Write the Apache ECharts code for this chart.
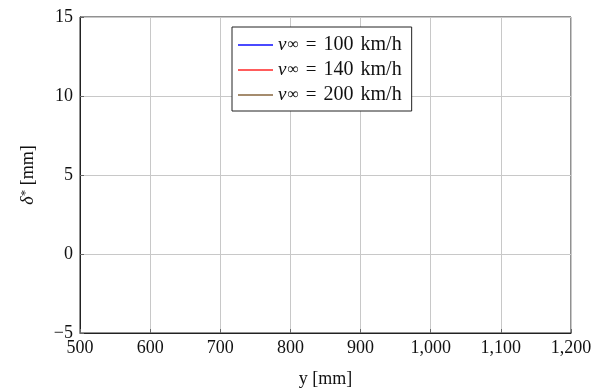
<!DOCTYPE html>
<html>
<head>
<meta charset="utf-8">
<script src="https://cdn.jsdelivr.net/npm/echarts@6/dist/echarts.min.js"></script>
<style>
  html, body { margin: 0; padding: 0; background: #fff; }
  #chart { width: 609px; height: 388px; }
</style>
</head>
<body>
<div id="chart"></div>
<script>
// legend entries (free-stream velocity, km/h)
const speeds = [100, 140, 200]
const colors = ['#4a4aff', '#ff5c5c', '#a58c6e']
// the curves do not show up in the picture, so the series are empty
const seriesY = [[], [], []]
const xTicks = [500, 1200, 100]
const yTicks = [-5, 15, 5]

const font = 'Liberation Serif'
const chart = echarts.init(document.getElementById('chart'))

const txt = { fontFamily: font, fontSize: 19, color: '#111' }

const option = {
  animation: false,
  grid: {
    left: 80, top: 17, right: 38, bottom: 55,
    outerBoundsMode: 'none',
    show: true, borderColor: '#222', borderWidth: 1
  },
  legend: {
    left: 232, top: 27,
    orient: 'vertical',
    itemGap: 5,
    itemWidth: 35, itemHeight: 2,
    padding: [8, 10, 6, 6],
    borderColor: '#222', borderWidth: 1,
    backgroundColor: '#fff',
    icon: 'rect',
    formatter: name => '{v|v}{s|∞}{e|=}{n|' + name + '}{u|km/h}',
    textStyle: {
      ...txt, lineHeight: 20,
      rich: {
        v: { ...txt, fontStyle: 'italic', lineHeight: 20 },
        s: { ...txt, fontSize: 16, lineHeight: 20, padding: [0, 0, 0, 1] },
        e: { ...txt, lineHeight: 20, padding: [0, 7, 0, 7] },
        n: { ...txt, fontSize: 20, lineHeight: 20 },
        u: { ...txt, fontSize: 20, lineHeight: 20, padding: [0, 0, 0, 7] }
      }
    }
  },
  xAxis: {
    type: 'value',
    min: xTicks[0], max: xTicks[1], interval: xTicks[2],
    name: 'y [mm]', nameLocation: 'middle', nameGap: 37,
    nameTextStyle: { ...txt, fontSize: 18 },
    axisLine: { onZero: false, lineStyle: { color: '#222' } },
    axisTick: { inside: true, length: 4, lineStyle: { color: '#666' } },
    axisLabel: {
      ...txt, fontSize: 18, margin: 6,
      formatter: v => v.toLocaleString('en-US')
    },
    splitLine: { show: true, lineStyle: { color: '#c8c8c8' } }
  },
  yAxis: {
    type: 'value',
    min: yTicks[0], max: yTicks[1], interval: yTicks[2],
    name: '{d|δ}{s|*} [mm]', nameLocation: 'middle', nameGap: 42,
    nameTextStyle: {
      ...txt, fontSize: 18,
      rich: {
        d: { ...txt, fontSize: 18, fontStyle: 'italic' },
        s: { ...txt, fontSize: 13, verticalAlign: 'top', padding: [0, 0, 6, 0] }
      }
    },
    axisLine: { onZero: false, lineStyle: { color: '#222' } },
    axisTick: { inside: true, length: 4, lineStyle: { color: '#666' } },
    axisLabel: {
      ...txt, fontSize: 18, margin: 7,
      formatter: v => String(v).replace('-', '−')
    },
    splitLine: { show: true, lineStyle: { color: '#c8c8c8' } }
  },
  series: speeds.map((s, i) => ({
    name: String(s),
    type: 'line',
    symbol: 'none',
    color: colors[i],
    lineStyle: { width: 1, color: colors[i] },
    data: seriesY[i]
  }))
}

chart.setOption(option)
</script>
</body>
</html>
